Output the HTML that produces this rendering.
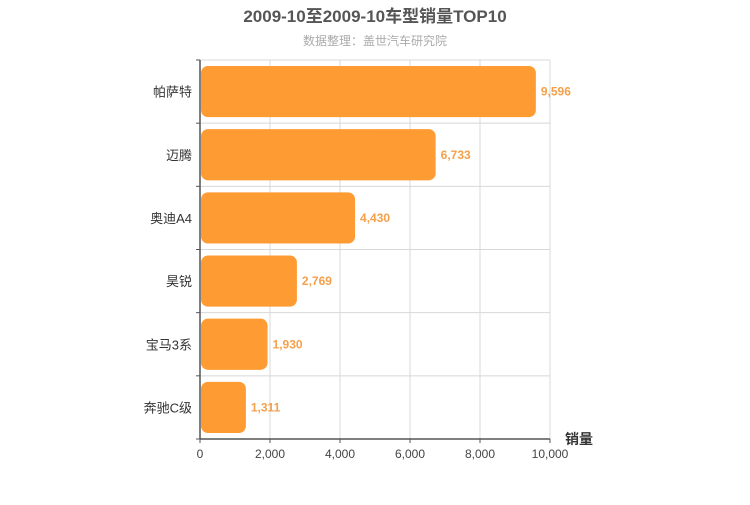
<!DOCTYPE html>
<html><head><meta charset="utf-8"><style>
body{margin:0;background:#fff;}
svg text{font-family:"Liberation Sans","Noto Sans CJK SC",sans-serif;}
</style></head><body>
<svg width="750" height="500" xmlns="http://www.w3.org/2000/svg">
<text x="375" y="22" text-anchor="middle" font-size="17" font-weight="bold" fill="#555">2009-10至2009-10车型销量TOP10</text>
<text x="375" y="45" text-anchor="middle" font-size="12" fill="#aaa">数据整理：盖世汽车研究院</text>
<g id="grid"></g>
<g id="bars"></g>
<g id="axes"></g>
<text x="565" y="444" font-size="14" font-weight="bold" fill="#333">销量</text>
</svg>
<script>
const categories=["帕萨特","迈腾","奥迪A4","昊锐","宝马3系","奔驰C级"];
const values=[9596,6733,4430,2769,1930,1311];
const tickValues=[0,2000,4000,6000,8000,10000];
const tickLabels=["0","2,000","4,000","6,000","8,000","10,000"];
const NS="http://www.w3.org/2000/svg";
const X0=200,X1=550,Y0=60,Y1=439,MAX=10000;
const xs=v=>X0+(v/MAX)*(X1-X0);
const band=(Y1-Y0)/categories.length;
const ys=i=>Y0+i*band;
function mk(t,a,p){const e=document.createElementNS(NS,t);for(const k in a)e.setAttribute(k,a[k]);p.appendChild(e);return e;}
const grid=document.getElementById('grid'),bars=document.getElementById('bars'),axes=document.getElementById('axes');
tickValues.forEach((v,i)=>{
 const l=mk('line',{x1:xs(v),x2:xs(v),y1:Y0,y2:Y1,stroke:'#d8d8d8'},grid);
 
 
 const tk=mk('line',{x1:xs(v),x2:xs(v),y1:Y1,y2:Y1+4,stroke:'#555'},axes);
 
 
 const t=mk('text',{x:xs(v),y:Y1+19,'text-anchor':'middle','font-size':12,fill:'#444'},axes);
 t.textContent=tickLabels[i];
 
 
});
for(let i=0;i<=categories.length;i++){
 const g=mk('line',{x1:X0,x2:X1,y1:ys(i),y2:ys(i),stroke:'#d8d8d8'},grid);
 
 
 const tk=mk('line',{x1:X0-4,x2:X0,y1:ys(i),y2:ys(i),stroke:'#555'},axes);
 
 
}
categories.forEach((c,i)=>{
 const top=ys(i)+6,h=band-12;
 const r=mk('rect',{x:X0+1,y:top,width:xs(values[i])-X0-1,height:h,rx:7,fill:'#ff9b33'},bars);
 
 
 const lv=mk('text',{x:xs(values[i])+5,y:top+h/2+4,'font-size':12,'font-weight':'bold',fill:'#f5a04a'},bars);
 lv.textContent=values[i].toLocaleString('en-US');
 
 
 const lc=mk('text',{x:X0-8,y:top+h/2+5,'text-anchor':'end','font-size':13,fill:'#333'},axes);
 lc.textContent=c;
 
 
});
const ax=mk('line',{x1:X0,x2:X0,y1:Y0,y2:Y1,stroke:'#555','stroke-width':1.5},axes);


const bx=mk('line',{x1:X0,x2:X1,y1:Y1,y2:Y1,stroke:'#555','stroke-width':1.5},axes);


</script>
</body></html>
